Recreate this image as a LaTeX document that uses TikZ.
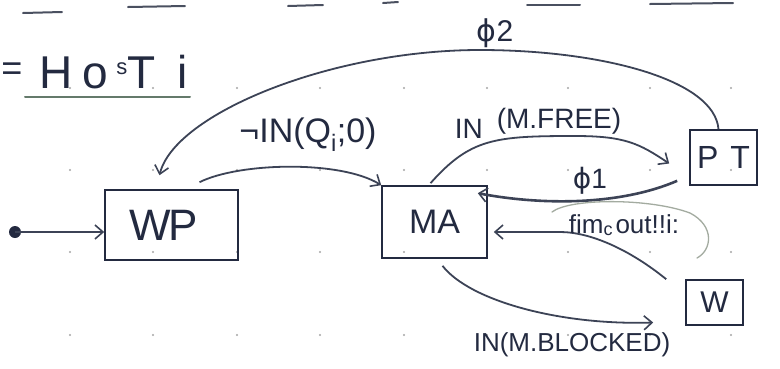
\documentclass[tikz,border=0pt]{standalone}
\usepackage{fontspec}
\setmainfont{Liberation Sans}
\newfontfamily\greekfont{DejaVu Sans}
\usetikzlibrary{arrows.meta,calc}
\definecolor{ink}{HTML}{232A40}
\definecolor{pencil}{HTML}{3C4356}
\definecolor{faint}{HTML}{A3ABA0}
\definecolor{rule}{HTML}{4A5060}
\newcommand{\fsz}[1]{\fontsize{#1}{#1}\selectfont}

\begin{document}
\begin{tikzpicture}[x=1pt,y=-1pt,
  every node/.style={text=ink},
  state/.style={draw=ink, line width=1.6pt, rectangle, inner sep=0pt},
  link/.style={draw=pencil, line width=1.8pt,
    -{Straight Barb[length=8pt,width=14pt,line width=1.6pt]}},
  heavy/.style={link, line width=2.6pt},
]
\useasboundingbox (0,0) rectangle (780,368);
\fill[white] (0,0) rectangle (780,368);

% ruled-paper marks along the top edge
\foreach \a/\b/\c/\d in {23/13/62/12, 128/7/185/6, 288/6/323/5, 383/3/398/2,
                         527/5/580/5, 650/4/733/3}
  \draw[rule, line width=2pt, line cap=round] (\a,\b) -- (\c,\d);

% dotted grid of the paper
\foreach \gx in {70,153,237,320,404,487,568,650,731}
  \foreach \gy in {88,170,252,335}
    \fill[gray!70] (\gx,\gy) circle (1.1);

% title
\node[font=\fsz{36}, inner sep=1pt] (eq) at (12,72) {=};
\node[font=\fsz{46}, anchor=west] (host) at (36,72)
  {H\kern10pt o\kern8pt{\fsz{22}\raisebox{14pt}{s}}T\kern22pt i};
\coordinate (ulA) at (25,97);
\coordinate (ulB) at (190,97);
\draw[rule!80!green!40!gray, line width=2pt, line cap=round] (ulA) -- (ulB);

% states
\node[state, minimum width=133pt, minimum height=70pt, font=\fsz{44}] (WP) at (171.5,225) {\hspace*{-16pt}W\kern-2pt P};
\node[state, minimum width=105pt, minimum height=72pt, font=\fsz{34}] (MA) at (434.5,222) {MA};
\node[state, minimum width=67pt, minimum height=55pt, font=\fsz{32}] (PT) at (723.5,157.5) {P\kern12pt T};
\node[state, minimum width=57pt, minimum height=45pt, font=\fsz{30}] (W) at (714.5,302.5) {W};

% initial marker
\coordinate (start) at (15,232);
\fill[ink] (start) circle (6);
\draw[link] (start) -- (start -| WP.west);

% PT -> WP (phi2)
\coordinate (phiTop) at (480,50);
\draw[link] ($(PT.north)+(-5,0)$) .. controls +(-4,-50) and +(120,0) .. (phiTop)
  .. controls +(-150,0) and +(15,-61) .. ($(WP.north)+(-12,-14)$);
\node[font=\fsz{30}] (phi2) at (495,33) {{\greekfont ϕ}2};

% WP -> MA
\draw[link] ($(WP.north)+(28,-7)$) .. controls +(40,-20) and +(-40,-25) .. (MA.north west);
\node[font=\fsz{34}] (lwm) at (308,135) {¬IN(Q\textsubscript{i};0)};

% MA -> PT
\coordinate (freeTop) at (575,136);
\draw[link] ($(MA.north)+(-4,-2)$) .. controls +(40,-45) and +(-80,0) .. (freeTop)
  .. controls +(50,0) and +(-30,-20) .. ($(PT.west)+(-20,6)$);
\node[font=\fsz{28}] (lfree) at (538,123) {IN\kern14pt\raisebox{10pt}{(M.FREE)}};

% PT -> MA (phi1)
\draw[heavy] ($(PT.south west)+(-12,-5)$) .. controls +(-58,25) and +(63,12) .. ($(MA.north east)+(-10,8)$);
\node[font=\fsz{28}] (phi1) at (590,181) {{\greekfont ϕ}1};

% W -> MA
\coordinate (fimBend) at (560,232);
\draw[link] ($(W.north west)+(-19,0)$) .. controls +(-37,-30) and +(30,0) .. (fimBend)
  -- ($(MA.east)+(6,10)$);
\draw[faint, line width=1.3pt, line cap=round] (552,212) .. controls (570,198) and (650,198) .. (690,213)
  .. controls (715,226) and (712,250) .. (697,258);
\node[font=\fsz{26}] (lfim) at (624,225) {fim\raisebox{-2pt}{\fsz{18}c}\kern3pt out!!i:};

% MA -> W
\draw[link] ($(MA.south)+(8,7)$) .. controls +(27,35) and +(-93,3) .. ($(W.west)+(-32,20)$);
\node[font=\fsz{26}] (lblk) at (572,345) {IN(M.BLOCKED)};

\end{tikzpicture}
\end{document}
